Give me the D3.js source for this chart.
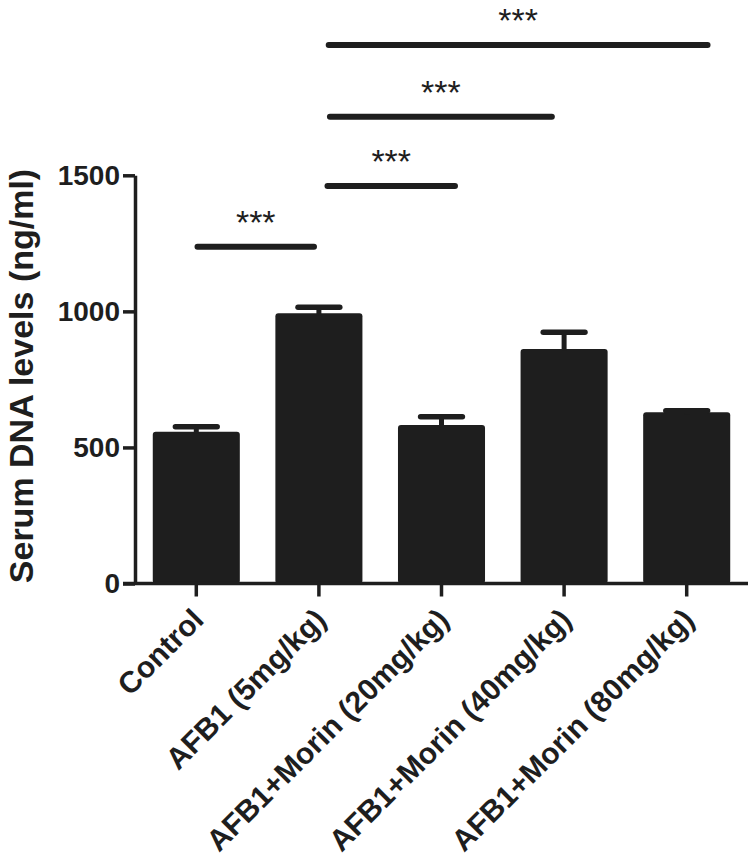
<!DOCTYPE html>
<html>
<head>
<meta charset="utf-8">
<script src="https://cdn.jsdelivr.net/npm/d3@7"></script>
<style>
  body { margin: 0; background: #fff; }
  svg { display: block; font-family: "Liberation Sans", Arial, sans-serif; }
</style>
</head>
<body>
<div id="chart"></div>
<script>

var groups = ["Control", "AFB1 (5mg/kg)", "AFB1+Morin (20mg/kg)", "AFB1+Morin (40mg/kg)", "AFB1+Morin (80mg/kg)"];
var means = [558, 993, 582, 862, 629];
var errors = [18, 22, 31, 61, 6];
var yTicks = [0, 500, 1000, 1500];

// significance brackets: from / to as group positions, level in data units
var sigFrom = [0.01, 1.07, 1.09, 1.08];
var sigTo = [0.96, 2.11, 2.90, 4.17];
var sigLevel = [1237, 1461, 1715, 1979];
var sigLabel = ["***", "***", "***", "***"];

var width = 750, height = 866;
var ink = "#1e1e1e";

var svg = d3.select("#chart")
  .append("svg")
  .attr("width", width)
  .attr("height", height);

//=========================================================================
// Scales
//=========================================================================
var x = d3.scaleBand()
  .domain(groups)
  .range([135, 748])
  .paddingInner(0.29)
  .paddingOuter(0.145);

var y = d3.scaleLinear()
  .domain([0, 1500])
  .range([583.5, 175.3]);

var pos = d3.scaleLinear()
  .domain([0, groups.length - 1])
  .range([x(groups[0]) + x.bandwidth() / 2, x(groups[groups.length - 1]) + x.bandwidth() / 2]);

//=========================================================================
// Bars + error bars
//=========================================================================
var data = groups.map(function(g, i) { return { g: g, m: means[i], e: errors[i] }; });

var gBars = svg.append("g");

gBars.selectAll("rect")
  .data(data)
  .enter()
  .append("rect")
  .attr("x", function(d) { return x(d.g); })
  .attr("y", function(d) { return y(d.m); })
  .attr("width", x.bandwidth())
  .attr("height", function(d) { return y(0) - y(d.m); })
  .attr("rx", 3)
  .attr("fill", ink);

gBars.selectAll("line.stem")
  .data(data)
  .enter()
  .append("line")
  .attr("class", "stem")
  .attr("x1", function(d) { return x(d.g) + x.bandwidth() / 2; })
  .attr("x2", function(d) { return x(d.g) + x.bandwidth() / 2; })
  .attr("y1", function(d) { return y(d.m) + 2; })
  .attr("y2", function(d) { return y(d.m + d.e); })
  .attr("stroke", ink)
  .attr("stroke-width", 5);

gBars.selectAll("line.cap")
  .data(data)
  .enter()
  .append("line")
  .attr("class", "cap")
  .attr("x1", function(d) { return x(d.g) + x.bandwidth() * 0.26; })
  .attr("x2", function(d) { return x(d.g) + x.bandwidth() * 0.74; })
  .attr("y1", function(d) { return y(d.m + d.e); })
  .attr("y2", function(d) { return y(d.m + d.e); })
  .attr("stroke", ink)
  .attr("stroke-width", 5.5)
  .attr("stroke-linecap", "round");

//=========================================================================
// Axes
//=========================================================================
var yAxis = svg.append("g")
  .attr("transform", "translate(135,0)")
  .call(d3.axisLeft(y).tickValues(yTicks).tickFormat(d3.format("d"))
    .tickSize(12).tickPadding(3).tickSizeOuter(0));

var xAxis = svg.append("g")
  .attr("transform", "translate(0," + y(0) + ")")
  .call(d3.axisBottom(x).tickSize(13).tickSizeOuter(0).tickFormat(""));

[yAxis, xAxis].forEach(function(a) {
  a.select(".domain").attr("stroke", ink).attr("stroke-width", 3.5);
  a.selectAll(".tick line").attr("stroke", ink).attr("stroke-width", 3.5);
});
xAxis.select(".domain").attr("d", "M123,0H748");

yAxis.selectAll(".tick text")
  .attr("fill", ink)
  .attr("font-size", 28)
  .attr("font-weight", "bold")
  .attr("font-family", "Liberation Sans, Arial, sans-serif");

// rotated category labels
svg.append("g")
  .selectAll("text")
  .data(groups)
  .enter()
  .append("text")
  .attr("transform", function(d) {
    return "translate(" + (x(d) + x.bandwidth() / 2 + 9) + "," + (y(0) + 38) + ") rotate(-45)";
  })
  .attr("text-anchor", "end")
  .attr("font-size", 30)
  .attr("font-weight", "bold")
  .attr("fill", ink)
  .text(function(d) { return d; });

svg.append("text")
  .attr("transform", "translate(33,376) rotate(-90)")
  .attr("text-anchor", "middle")
  .attr("font-size", 34)
  .attr("font-weight", "bold")
  .attr("fill", ink)
  .text("Serum DNA levels (ng/ml)");

//=========================================================================
// Significance lines
//=========================================================================
var sig = sigFrom.map(function(f, i) { return { a: f, b: sigTo[i], v: sigLevel[i], t: sigLabel[i] }; });

var gSig = svg.append("g");

gSig.selectAll("line")
  .data(sig)
  .enter()
  .append("line")
  .attr("x1", function(d) { return pos(d.a); })
  .attr("x2", function(d) { return pos(d.b); })
  .attr("y1", function(d) { return y(d.v); })
  .attr("y2", function(d) { return y(d.v); })
  .attr("stroke", ink)
  .attr("stroke-width", 6)
  .attr("stroke-linecap", "round");

gSig.selectAll("text")
  .data(sig)
  .enter()
  .append("text")
  .attr("x", function(d) { return (pos(d.a) + pos(d.b)) / 2; })
  .attr("y", function(d) { return y(d.v) - 13; })
  .attr("text-anchor", "middle")
  .attr("font-size", 34)
  .attr("fill", ink)
  .text(function(d) { return d.t; });

</script>
</body>
</html>
